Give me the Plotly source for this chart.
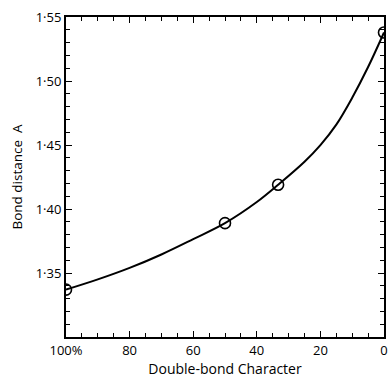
import plotly.graph_objects as go

# Measured points (double-bond character %, bond distance Å)
point_x = [100, 50, 33.3, 0]
point_y = [1.337, 1.389, 1.419, 1.538]

# Smooth curve
curve_x = [100, 90, 80, 70, 60, 50, 40, 33.3, 25, 20, 15, 10, 5, 0]
curve_y = [1.337, 1.345, 1.354, 1.3645, 1.3765, 1.389, 1.4055, 1.419, 1.437, 1.450, 1.466, 1.487, 1.511, 1.538]

x_tickvals = [100, 80, 60, 40, 20, 0]
x_ticktext = ["100%", "80", "60", "40", "20", "0"]
y_tickvals = [1.35, 1.40, 1.45, 1.50, 1.55]
y_ticktext = ["1·35", "1·40", "1·45", "1·50", "1·55"]

FONT = "Open Sans, Lato, sans-serif"

fig = go.Figure()
fig.add_trace(go.Scatter(
    x=curve_x, y=curve_y, mode="lines",
    line=dict(color="black", width=2, shape="spline", smoothing=1.0),
    hoverinfo="skip", showlegend=False,
))
fig.add_trace(go.Scatter(
    x=point_x, y=point_y, mode="markers",
    marker=dict(symbol="circle-open", size=11, color="black", line=dict(width=1.6, color="black")),
    showlegend=False,
))

axis_common = dict(
    showgrid=False, zeroline=False,
    showline=True, linecolor="black", linewidth=2, mirror="allticks",
    ticks="inside", ticklen=6, tickwidth=1.2, tickcolor="black",
    tickfont=dict(family=FONT, size=13, color="black"),
)

fig.update_xaxes(
    range=[100.0001, -0.0001], tickvals=x_tickvals, ticktext=x_ticktext,
    title=dict(text="Double-bond Character", font=dict(family=FONT, size=14, color="black"), standoff=6),
    minor=dict(dtick=5, tick0=0, ticks="inside", ticklen=4, tickwidth=1, tickcolor="black"),
    **axis_common,
)
fig.update_yaxes(
    range=[1.30, 1.5501], tickvals=y_tickvals, ticktext=y_ticktext,
    title=dict(text="Bond distance  A", font=dict(family=FONT, size=13.5, color="black"), standoff=10),
    minor=dict(dtick=0.01, tick0=1.30, ticks="inside", ticklen=4, tickwidth=1, tickcolor="black"),
    **axis_common,
)

fig.update_layout(
    width=391, height=381,
    margin=dict(l=66, r=3, t=17, b=44),
    paper_bgcolor="white", plot_bgcolor="white",
    font=dict(family=FONT, color="black"),
)

fig.write_html(
    "out.html",
    config={"displayModeBar": False},
    post_script="document.body.style.margin='0';document.documentElement.style.overflow='hidden';document.body.style.overflow='hidden';",
)
